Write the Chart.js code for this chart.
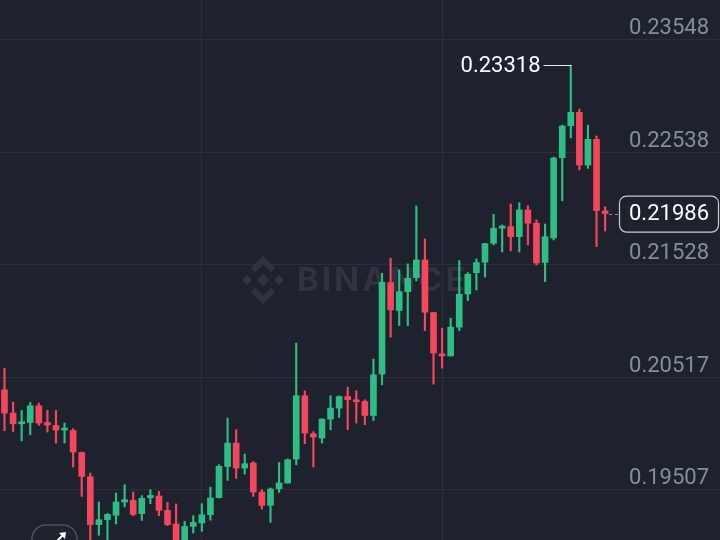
<!DOCTYPE html>
<html><head><meta charset="utf-8">
<script src="https://cdn.jsdelivr.net/npm/chart.js@4.4.1/dist/chart.umd.min.js"></script>
<style>html,body{margin:0;padding:0;background:#1e222d;overflow:hidden}canvas{display:block}</style>
</head><body><canvas id="c" width="720" height="540"></canvas>
<script>
// Candle data (OHLC)
const opens  = [0.20403,0.20194,0.20098,0.20110,0.20260,0.20110,0.20083,0.20042,0.20038,0.19841,
                0.19623,0.19193,0.19237,0.19276,0.19396,0.19411,0.19291,0.19435,0.19450,0.19321,
                0.19199,0.18995,0.19177,0.19208,0.19282,0.19435,0.19715,0.19925,0.19701,0.19746,
                0.19486,0.19366,0.19515,0.19567,0.19782,0.20350,0.20009,0.19970,0.20141,0.20239,
                0.20343,0.20314,0.20299,0.20173,0.20544,0.21366,0.21115,0.21285,0.21411,0.21569,
                0.21097,0.20726,0.20708,0.20966,0.21264,0.21455,0.21549,0.21719,0.21854,0.21868,
                0.21778,0.22018,0.21899,0.21547,0.21767,0.22487,0.22774,0.22894,0.22421,0.22652,
                0.22009];
const highs  = [0.20598,0.20293,0.20218,0.20290,0.20284,0.20218,0.20218,0.20105,0.20054,0.19845,
                0.19656,0.19396,0.19294,0.19477,0.19551,0.19486,0.19453,0.19507,0.19491,0.19393,
                0.19378,0.19222,0.19273,0.19381,0.19529,0.19731,0.20150,0.20045,0.19827,0.19760,
                0.19507,0.19522,0.19751,0.19782,0.20822,0.20394,0.20027,0.20143,0.20350,0.20350,
                0.20428,0.20394,0.20314,0.20679,0.21450,0.21585,0.21480,0.21534,0.22054,0.21758,
                0.21100,0.20957,0.21046,0.21563,0.21455,0.21578,0.21719,0.21979,0.21883,0.22072,
                0.22083,0.22056,0.21928,0.21892,0.22493,0.22780,0.23318,0.22924,0.22780,0.22682,
                0.22047];
const lows   = [0.20036,0.20029,0.19946,0.20000,0.20083,0.20024,0.19925,0.19925,0.19710,0.19446,
                0.19040,0.19097,0.19040,0.19199,0.19351,0.19273,0.19231,0.19381,0.19273,0.19184,
                0.18950,0.18960,0.19118,0.19133,0.19233,0.19432,0.19590,0.19608,0.19647,0.19446,
                0.19333,0.19213,0.19482,0.19565,0.19731,0.19919,0.19710,0.19925,0.20045,0.20155,
                0.20045,0.20105,0.20089,0.20128,0.20448,0.20876,0.20980,0.20980,0.21381,0.20935,
                0.20454,0.20598,0.20705,0.20935,0.21204,0.21300,0.21417,0.21704,0.21641,0.21650,
                0.21641,0.21704,0.21525,0.21375,0.21749,0.22101,0.22666,0.22377,0.22392,0.21689,
                0.21829];
const closes = [0.20194,0.20098,0.20116,0.20260,0.20105,0.20087,0.20042,0.20060,0.19845,0.19626,
                0.19193,0.19237,0.19285,0.19396,0.19417,0.19285,0.19429,0.19455,0.19321,0.19193,
                0.18990,0.19177,0.19213,0.19282,0.19432,0.19717,0.19925,0.19701,0.19740,0.19486,
                0.19366,0.19513,0.19567,0.19776,0.20350,0.20015,0.19979,0.20141,0.20239,0.20343,
                0.20314,0.20296,0.20173,0.20538,0.21369,0.21121,0.21285,0.21405,0.21569,0.21100,
                0.20733,0.20708,0.20966,0.21262,0.21441,0.21545,0.21716,0.21854,0.21874,0.21778,
                0.22018,0.21899,0.21542,0.21778,0.22484,0.22771,0.22894,0.22421,0.22652,0.22012,
                0.21986];
const priceTicks = [0.19507, 0.20517, 0.21528, 0.22538, 0.23548];
const timeGrid = [23, 51];

const BG = '#1e222d', GRID = '#2b2f3a', UP = '#2ebd85', DOWN = '#f6465d', LABEL = '#848e9c';
const FONT = 'Roboto, "Noto Sans", sans-serif';
const idx = opens.map((_, i) => i);
const colorFor = i => closes[i] >= opens[i] ? UP : DOWN;

function setSpacing(c, v) { try { c.letterSpacing = v; } catch (e) {} }

const overlay = {
  id: 'overlay',
  beforeDraw(chart) {
    const c = chart.ctx;
    c.save(); c.fillStyle = BG; c.fillRect(0, 0, chart.width, chart.height); c.restore();
  },
  beforeDatasetsDraw(chart) {
    const c = chart.ctx;
    c.save();
    c.fillStyle = '#2f333e';
    c.strokeStyle = '#2f333e';
    const cx = 263, cy = 280;
    const dia = (x, y, r) => { c.beginPath(); c.moveTo(x, y - r); c.lineTo(x + r, y); c.lineTo(x, y + r); c.lineTo(x - r, y); c.closePath(); c.fill(); };
    dia(cx, cy, 6.5);
    dia(cx - 16, cy, 5);
    dia(cx + 16, cy, 5);
    c.lineWidth = 6.5; c.lineJoin = 'miter';
    c.beginPath(); c.moveTo(cx - 10, cy - 10); c.lineTo(cx, cy - 20); c.lineTo(cx + 10, cy - 10); c.stroke();
    c.beginPath(); c.moveTo(cx - 10, cy + 10); c.lineTo(cx, cy + 20); c.lineTo(cx + 10, cy + 10); c.stroke();
    c.font = 'bold 33px Inter, "Noto Sans", sans-serif';
    c.textBaseline = 'middle'; c.textAlign = 'left';
    setSpacing(c, '3px');
    c.fillText('BINANCE', 297, cy + 1);
    c.restore();
  },
  afterDatasetsDraw(chart) {
    const c = chart.ctx, xs = chart.scales.x, ys = chart.scales.y;
    c.save();
    c.font = '22px ' + FONT; c.textBaseline = 'middle';
    // price axis labels (drawn above their grid lines)
    c.fillStyle = LABEL; c.textAlign = 'right';
    priceTicks.forEach(v => c.fillText(v.toFixed(5), 709, ys.getPixelForValue(v) - 11));
    // highest price marker
    const hMax = Math.max(...highs), iMax = highs.indexOf(hMax);
    const hx = Math.round(xs.getPixelForValue(iMax)) + 0.5, hy = Math.round(ys.getPixelForValue(hMax)) + 0.5;
    c.strokeStyle = '#e6e8ea'; c.lineWidth = 1;
    c.beginPath(); c.moveTo(hx, hy); c.lineTo(hx - 28, hy); c.stroke();
    c.fillStyle = '#ffffff'; c.textAlign = 'right';
    c.fillText(hMax.toFixed(5), hx - 31, hy + 1);
    // last price box
    const last = closes.length - 1, lp = closes[last];
    const ly = ys.getPixelForValue(lp), lx = xs.getPixelForValue(last);
    c.strokeStyle = LABEL; c.setLineDash([3, 3]);
    c.beginPath(); c.moveTo(lx + 4, Math.round(ly) + 0.5); c.lineTo(619, Math.round(ly) + 0.5); c.stroke();
    c.setLineDash([]);
    const bx = 619, bw = 100, bh = 36, by = ly - bh / 2;
    c.beginPath(); c.roundRect(bx + 0.5, by + 0.5, bw - 1, bh, 7);
    c.fillStyle = BG; c.fill();
    c.strokeStyle = '#c8ccd2'; c.lineWidth = 1.2; c.stroke();
    c.fillStyle = '#ffffff'; c.textAlign = 'center';
    c.fillText(lp.toFixed(5), bx + 50, ly + 1);
    // bottom-left button
    c.strokeStyle = '#4a4f59'; c.lineWidth = 1.5;
    c.beginPath(); c.roundRect(32, 525, 45, 40, 14); c.stroke();
    c.strokeStyle = '#ffffff'; c.fillStyle = '#ffffff'; c.lineWidth = 2;
    c.beginPath(); c.moveTo(56, 542); c.lineTo(63, 535); c.stroke();
    c.beginPath(); c.moveTo(66, 532); c.lineTo(59, 533); c.lineTo(65, 539); c.closePath(); c.fill();
    c.restore();
  }
};

new Chart(document.getElementById('c').getContext('2d'), {
  type: 'bar',
  data: {
    datasets: [
      { label: 'wick', data: idx.map(i => ({ x: i, y: [lows[i], highs[i]] })),
        backgroundColor: ctx => colorFor(ctx.dataIndex), barThickness: 1.5, grouped: false, order: 2 },
      { label: 'body', data: idx.map(i => ({ x: i, y: [opens[i], closes[i]] })),
        backgroundColor: ctx => colorFor(ctx.dataIndex), barThickness: 6, minBarLength: 1.5, grouped: false, order: 1 }
    ]
  },
  options: {
    responsive: false, animation: false, devicePixelRatio: 1,
    layout: { padding: 0 },
    plugins: { legend: { display: false }, tooltip: { enabled: false } },
    scales: {
      x: {
        type: 'linear', min: -0.5245, max: 83.39, offset: false,
        grid: { color: GRID, drawTicks: false, offset: false }, border: { display: false },
        ticks: { display: false },
        afterBuildTicks: s => { s.ticks = timeGrid.map(v => ({ value: v })); },
        afterFit: s => { s.height = 0; }
      },
      y: {
        type: 'linear', position: 'right', min: 0.19055, max: 0.23903,
        grid: { color: GRID, drawTicks: false }, border: { display: false },
        ticks: { display: false },
        afterBuildTicks: s => { s.ticks = priceTicks.map(v => ({ value: v })); },
        afterFit: s => { s.width = 0; }
      }
    }
  },
  plugins: [overlay]
});
</script>
</body></html>
